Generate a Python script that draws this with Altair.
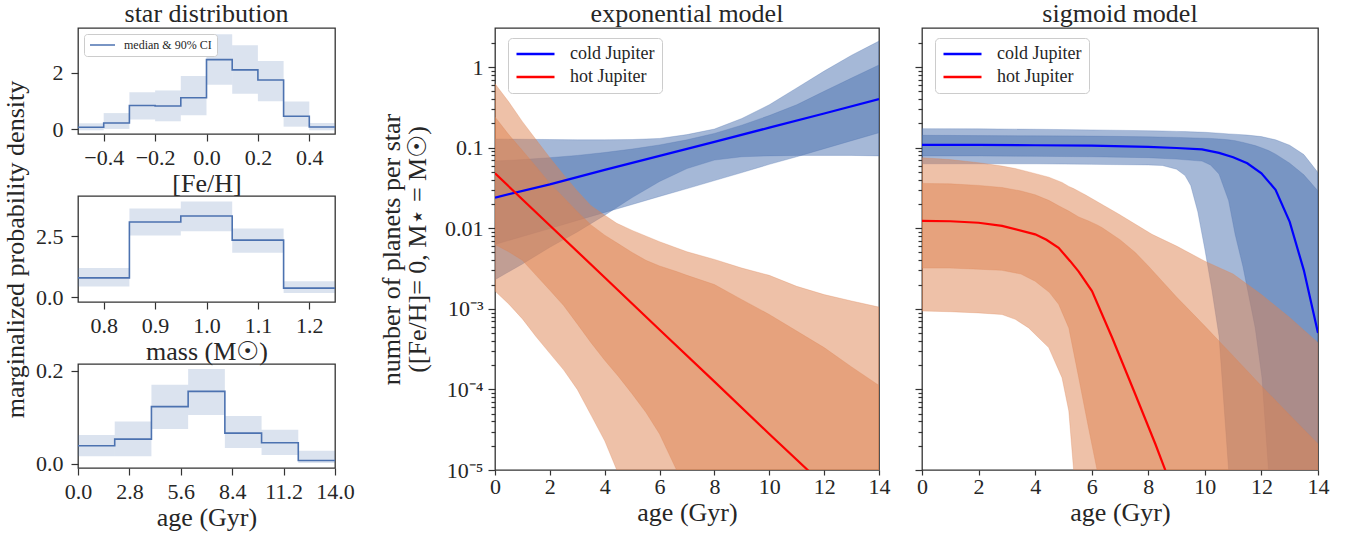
import math
import altair as alt
import pandas as pd

FONT = "Liberation Serif"
TEXT = "#262626"
FRAME = "#333333"
C0 = "#4c72b0"
C1 = "#dd8452"

# ---------------- star distribution (left column) ----------------
FEH_EDGES = [-0.5, -0.4, -0.3, -0.2, -0.1, 0.0, 0.1, 0.2, 0.3, 0.4, 0.5]
FEH_MED = [0.07, 0.22, 0.84, 0.82, 1.11, 2.46, 2.10, 1.74, 0.46, 0.08]
FEH_LO = [-0.04, 0.01, 0.34, 0.28, 0.49, 1.57, 1.25, 0.99, 0.09, -0.04]
FEH_HI = [0.21, 0.57, 1.31, 1.37, 1.88, 3.36, 2.97, 2.41, 0.98, 0.22]

MASS_EDGES = [0.75, 0.85, 0.95, 1.05, 1.15, 1.25]
MASS_MED = [0.80, 3.09, 3.34, 2.35, 0.38]
MASS_LO = [0.45, 2.54, 2.71, 1.83, 0.18]
MASS_HI = [1.21, 3.65, 3.93, 2.83, 0.66]

AGE_EDGES = [0, 2, 4, 6, 8, 10, 12, 14]
AGE_MED = [0.0387, 0.053, 0.123, 0.156, 0.066, 0.045, 0.007]
AGE_LO = [0.016, 0.016, 0.075, 0.105, 0.034, 0.019, 0.0014]
AGE_HI = [0.062, 0.091, 0.170, 0.204, 0.103, 0.073, 0.028]

FEH_TICKS = [-0.4, -0.2, 0.0, 0.2, 0.4]
MASS_TICKS = [0.8, 0.9, 1.0, 1.1, 1.2]
AGEH_TICKS = [0.0, 2.8, 5.6, 8.4, 11.2, 14.0]

# ---------------- exponential model ----------------
EXP_COLD_AGE = [0, 1, 2, 3, 4, 5, 6, 7, 8, 9, 10, 11, 12, 13, 14]
EXP_COLD_OUT_LO = [0.0023, 0.0036, 0.0058, 0.0090, 0.0145, 0.024, 0.038, 0.055, 0.070, 0.077, 0.079, 0.080, 0.080, 0.080, 0.079]
EXP_COLD_OUT_HI = [0.128, 0.127, 0.126, 0.125, 0.125, 0.126, 0.130, 0.145, 0.170, 0.230, 0.340, 0.550, 0.890, 1.40, 2.10]
EXP_COLD_IN_LO = [0.0063, 0.0079, 0.0099, 0.0125, 0.0157, 0.0197, 0.0248, 0.031, 0.039, 0.049, 0.062, 0.077, 0.097, 0.122, 0.153]
EXP_COLD_IN_HI = [0.068, 0.071, 0.075, 0.080, 0.087, 0.096, 0.108, 0.125, 0.150, 0.190, 0.250, 0.340, 0.500, 0.730, 1.06]
EXP_COLD_MED_AGE = [0, 2, 4, 6, 8, 10, 12, 14]
EXP_COLD_MED = [0.024, 0.035, 0.053, 0.079, 0.118, 0.177, 0.265, 0.40]

EXP_HOT_OUT_AGE = [0, 0.5, 1, 1.5, 2, 2.5, 3, 3.5, 4, 4.44, 5, 6, 7, 8, 9, 10, 11, 12, 13, 14]
EXP_HOT_OUT_HI = [0.62, 0.37, 0.21, 0.125, 0.075, 0.046, 0.029, 0.019, 0.0145, 0.0115, 0.0094, 0.0068, 0.0051, 0.0041, 0.0032, 0.0026, 0.0019, 0.0015, 0.00125, 0.00105]
EXP_HOT_OUT_LO = [0.00166, 0.00115, 7.5e-4, 4.5e-4, 2.8e-4, 1.75e-4, 1.0e-4, 4.8e-5, 2.3e-5, 1e-5, 1e-6, 1e-6, 1e-6, 1e-6, 1e-6, 1e-6, 1e-6, 1e-6, 1e-6, 1e-6]
EXP_HOT_IN_AGE = [0, 0.5, 1, 1.5, 2, 2.5, 3, 3.5, 4, 4.5, 5, 5.5, 6, 6.62, 7, 8, 9, 10, 11, 12, 13, 14]
EXP_HOT_IN_HI = [0.24, 0.145, 0.092, 0.058, 0.036, 0.024, 0.016, 0.011, 0.0082, 0.0064, 0.0050, 0.0040, 0.0034, 0.0029, 0.0026, 0.0020, 0.0013, 8.5e-4, 5.3e-4, 3.3e-4, 1.9e-4, 1.12e-4]
EXP_HOT_IN_LO = [0.0063, 0.0051, 0.0040, 0.0026, 0.0017, 0.0011, 6.5e-4, 3.8e-4, 2.3e-4, 1.45e-4, 8.8e-5, 5.2e-5, 2.8e-5, 1e-5, 1e-6, 1e-6, 1e-6, 1e-6, 1e-6, 1e-6, 1e-6, 1e-6]
EXP_HOT_MED_AGE = [0, 2, 4, 6, 8, 10, 11.4, 14]
EXP_HOT_MED = [0.048, 0.0108, 0.00245, 5.5e-4, 1.25e-4, 2.8e-5, 1e-5, 1.5e-6]

# ---------------- sigmoid model ----------------
SIG_COLD_OUT_AGE = [0, 2, 4, 6, 8, 8.5, 9, 9.3, 9.5, 9.75, 10, 10.25, 10.5, 10.84, 11, 11.5, 12, 12.5, 13, 13.5, 14]
SIG_COLD_OUT_HI = [0.172, 0.171, 0.169, 0.166, 0.162, 0.161, 0.159, 0.158, 0.157, 0.156, 0.155, 0.153, 0.151, 0.148, 0.147, 0.143, 0.137, 0.125, 0.107, 0.082, 0.049]
SIG_COLD_OUT_LO = [0.063, 0.063, 0.063, 0.062, 0.061, 0.060, 0.054, 0.045, 0.034, 0.016, 0.0055, 0.0017, 4.6e-4, 1e-5, 1e-6, 1e-6, 1e-6, 1e-6, 1e-6, 1e-6, 1e-6]
SIG_COLD_IN_AGE = [0, 2, 4, 6, 8, 9, 9.9, 10.2, 10.5, 10.84, 11.07, 11.35, 11.78, 12.02, 12.25, 12.5, 13, 13.5, 14]
SIG_COLD_IN_HI = [0.142, 0.141, 0.140, 0.139, 0.136, 0.134, 0.131, 0.130, 0.128, 0.125, 0.122, 0.116, 0.106, 0.099, 0.092, 0.083, 0.064, 0.046, 0.029]
SIG_COLD_IN_LO = [0.079, 0.079, 0.078, 0.077, 0.075, 0.072, 0.068, 0.061, 0.047, 0.022, 0.0084, 0.0033, 5.8e-4, 1.4e-4, 1e-5, 1e-6, 1e-6, 1e-6, 1e-6]
SIG_COLD_MED_AGE = [0, 2, 4, 6, 8, 9, 9.9, 10.5, 11, 11.5, 12, 12.5, 13, 13.5, 14]
SIG_COLD_MED = [0.108, 0.108, 0.107, 0.106, 0.102, 0.099, 0.095, 0.086, 0.076, 0.064, 0.048, 0.030, 0.012, 0.003, 5.0e-4]

SIG_HOT_OUT_AGE = [0, 1, 2, 2.83, 3.3, 3.77, 4.48, 4.95, 5.19, 5.36, 5.6, 5.77, 6.95, 8.13, 9, 10, 11, 12, 13, 14]
SIG_HOT_OUT_HI = [0.075, 0.071, 0.065, 0.059, 0.055, 0.050, 0.043, 0.037, 0.033, 0.031, 0.028, 0.026, 0.015, 0.0084, 0.006, 0.0039, 0.0027, 0.0015, 7.8e-4, 3.8e-4]
SIG_HOT_OUT_LO = [9.4e-4, 9.2e-4, 8.9e-4, 8.5e-4, 7.4e-4, 5.8e-4, 3.3e-4, 1.4e-4, 5.4e-5, 1e-5, 1e-6, 1e-6, 1e-6, 1e-6, 1e-6, 1e-6, 1e-6, 1e-6, 1e-6, 1e-6]
SIG_HOT_IN_AGE = [0, 1, 2, 2.83, 3.5, 4.0, 4.5, 4.83, 5.19, 5.54, 5.89, 6.19, 6.36, 7, 7.54, 8, 9, 10, 11, 12, 13, 14]
SIG_HOT_IN_HI = [0.036, 0.0355, 0.034, 0.032, 0.029, 0.026, 0.022, 0.019, 0.0163, 0.0138, 0.0123, 0.011, 0.0102, 0.0072, 0.0050, 0.0034, 0.0014, 6.1e-4, 2.6e-4, 1.1e-4, 4.8e-5, 2.1e-5]
SIG_HOT_IN_LO = [0.0032, 0.0032, 0.0031, 0.0030, 0.0027, 0.0022, 0.0016, 0.00114, 5.8e-4, 1.4e-4, 3.3e-5, 1e-5, 1e-6, 1e-6, 1e-6, 1e-6, 1e-6, 1e-6, 1e-6, 1e-6, 1e-6, 1e-6]
SIG_HOT_MED_AGE = [0, 1, 2, 2.83, 4.0, 4.4, 4.83, 5.24, 5.54, 6.01, 6.72, 7.54, 8.25, 8.6, 9]
SIG_HOT_MED = [0.0123, 0.0122, 0.0117, 0.0107, 0.0084, 0.0072, 0.0057, 0.0039, 0.0029, 0.00166, 4.4e-4, 8.7e-5, 2.1e-5, 1e-5, 3e-6]

MAJOR = [1e-5, 1e-4, 1e-3, 1e-2, 1e-1, 1]
MAJOR_LABELS = ["10⁻⁵", "10⁻⁴", "10⁻³", "0.01", "0.1", "1"]
AGE_TICKS = [0, 2, 4, 6, 8, 10, 12, 14]
PLANETS = ["cold Jupiter", "hot Jupiter"]
LINE_COLORS = ["#0000ff", "#ff0000"]
Y_DOMAIN = [1e-5, 3.05]


# ---------------- helpers ----------------
def hist_panel(edges, med, lo, hi, xdom, ydom, xticks, yticks, xfmt, yfmt,
               height, xtitle, ytitle=None, title=None, legend=False):
    rects = pd.DataFrame({"x0": edges[:-1], "x1": edges[1:], "lo": lo, "hi": hi})
    steps = pd.DataFrame({"x": edges, "y": med + [med[-1]], "s": "median & 90% CI"})
    xs = alt.Scale(domain=xdom, nice=False, zero=False)
    ys = alt.Scale(domain=ydom, nice=False, zero=False)
    xax = alt.Axis(values=xticks, format=xfmt, title=xtitle, tickSize=7,
                   labelPadding=6, titlePadding=2, labelFlush=False,
                   labelOverlap=False)
    yax = alt.Axis(values=yticks, format=yfmt, title=ytitle, tickSize=7,
                   labelPadding=8, titlePadding=7, labelOverlap=False)
    band = alt.Chart(rects).mark_rect(color=C0, opacity=0.2, strokeWidth=0).encode(
        x=alt.X("x0:Q", scale=xs, axis=xax), x2="x1:Q",
        y=alt.Y("lo:Q", scale=ys, axis=yax), y2="hi:Q")
    enc = dict(x=alt.X("x:Q", scale=xs, axis=xax), y=alt.Y("y:Q", scale=ys, axis=yax))
    if legend:
        enc["color"] = alt.Color(
            "s:N", scale=alt.Scale(range=[C0]),
            legend=alt.Legend(title=None, orient="none", legendX=6, legendY=6,
                              symbolType="stroke", symbolSize=625,
                              symbolStrokeWidth=1.6, labelFontSize=12,
                              labelFont=FONT, labelColor=TEXT, labelOffset=8,
                              padding=5, clipHeight=12, fillColor="white",
                              strokeColor="#cccccc", cornerRadius=3))
    line = alt.Chart(steps).mark_line(interpolate="step-after", color=C0,
                                      strokeWidth=1.6).encode(**enc)
    props = dict(width=257, height=height)
    if title is not None:
        props["title"] = alt.TitleParams(title, anchor="middle", offset=1)
    return alt.layer(band, line).properties(**props)


DECADE_TEST = "abs(log(datum.value)/LN10 - round(log(datum.value)/LN10)) < 0.01"


def label_expr():
    expr = "''"
    for v, lab in zip(MAJOR, MAJOR_LABELS):
        k = int(round(math.log10(v)))
        expr = f"round(log(datum.value)/LN10) == {k} ? '{lab}' : " + expr
    return f"({DECADE_TEST}) ? ({expr}) : ''"


def tick_values():
    vals = []
    for d in MAJOR:
        for m in range(1, 10):
            v = m * d
            if v < 2.9:
                vals.append(v)
    return vals


def model_panel(title, width, bands, meds, show_labels, ytitle=None):
    xs = alt.Scale(domain=[0, 14], nice=False, zero=False)
    ys = alt.Scale(type="log", domain=Y_DOMAIN, nice=False)
    xax = alt.Axis(values=AGE_TICKS, format="d", title="age (Gyr)", tickSize=5,
                   labelPadding=1, titlePadding=2, labelFlush=False)
    yargs = dict(values=tick_values(), labelOverlap=False, labelPadding=5,
                 tickSize={"condition": {"test": DECADE_TEST, "value": 7}, "value": 4})
    if show_labels:
        yargs.update(labelExpr=label_expr(), title=ytitle, titlePadding=14,
                     titleLineHeight=26)
    else:
        yargs.update(labels=False, title=None)
    yax = alt.Axis(**yargs)
    layers = []
    for ages, lo, hi, col in bands:
        df = pd.DataFrame({"age": ages, "lo": lo, "hi": hi})
        layers.append(alt.Chart(df).mark_area(
            color=col, fillOpacity=0.5, stroke=col, strokeWidth=0.8,
            strokeOpacity=0.35, clip=True).encode(
            x=alt.X("age:Q", scale=xs, axis=xax),
            y=alt.Y("lo:Q", scale=ys, axis=yax), y2="hi:Q"))
    frames = []
    for name, (ages, vals) in zip(PLANETS, meds):
        frames.append(pd.DataFrame({"age": ages, "v": vals, "planet": name}))
    lines = pd.concat(frames, ignore_index=True)
    layers.append(alt.Chart(lines).mark_line(strokeWidth=2.2, clip=True).encode(
        x=alt.X("age:Q", scale=xs, axis=xax),
        y=alt.Y("v:Q", scale=ys, axis=yax),
        color=alt.Color("planet:N", scale=alt.Scale(domain=PLANETS, range=LINE_COLORS),
                        legend=alt.Legend(title=None, orient="none", legendX=13, legendY=10,
                                          symbolType="stroke", symbolSize=1444,
                                          symbolStrokeWidth=2.5, labelFontSize=18,
                                          labelFont=FONT, labelColor=TEXT, labelOffset=14,
                                          padding=7, rowPadding=5, clipHeight=18,
                                          fillColor="rgba(255,255,255,0.85)",
                                          strokeColor="#cccccc", cornerRadius=4))))
    return alt.layer(*layers).properties(
        width=width, height=442,
        title=alt.TitleParams(title, anchor="middle", offset=1))


p1 = hist_panel(FEH_EDGES, FEH_MED, FEH_LO, FEH_HI, [-0.5, 0.5], [-0.17, 3.58],
                FEH_TICKS, [0, 2], ".1f", "d", 106, "[Fe/H]", title="star distribution",
                legend=True)
p2 = hist_panel(MASS_EDGES, MASS_MED, MASS_LO, MASS_HI, [0.75, 1.25], [-0.19, 4.16],
                MASS_TICKS, [0, 2.5], ".1f", ".1f", 106, "mass (M☉)",
                ytitle="marginalized probability density")
p3 = hist_panel(AGE_EDGES, AGE_MED, AGE_LO, AGE_HI, [0, 14], [-0.0093, 0.215],
                AGEH_TICKS, [0, 0.2], ".1f", ".1f", 104, "age (Gyr)")

mid = model_panel(
    "exponential model", 384,
    [(EXP_COLD_AGE, EXP_COLD_OUT_LO, EXP_COLD_OUT_HI, C0),
     (EXP_COLD_AGE, EXP_COLD_IN_LO, EXP_COLD_IN_HI, C0),
     (EXP_HOT_OUT_AGE, EXP_HOT_OUT_LO, EXP_HOT_OUT_HI, C1),
     (EXP_HOT_IN_AGE, EXP_HOT_IN_LO, EXP_HOT_IN_HI, C1)],
    [(EXP_COLD_MED_AGE, EXP_COLD_MED), (EXP_HOT_MED_AGE, EXP_HOT_MED)],
    True, ytitle=["number of planets per star", "([Fe/H]= 0, M⋆ = M☉)"])
right = model_panel(
    "sigmoid model", 396,
    [(SIG_COLD_OUT_AGE, SIG_COLD_OUT_LO, SIG_COLD_OUT_HI, C0),
     (SIG_COLD_IN_AGE, SIG_COLD_IN_LO, SIG_COLD_IN_HI, C0),
     (SIG_HOT_OUT_AGE, SIG_HOT_OUT_LO, SIG_HOT_OUT_HI, C1),
     (SIG_HOT_IN_AGE, SIG_HOT_IN_LO, SIG_HOT_IN_HI, C1)],
    [(SIG_COLD_MED_AGE, SIG_COLD_MED), (SIG_HOT_MED_AGE, SIG_HOT_MED)],
    False)

left_col = alt.vconcat(p1, p2, p3, spacing=62, bounds="flush").resolve_scale(
    x="independent", y="independent", color="independent").resolve_legend(color="independent")
models = alt.hconcat(mid, right, spacing=22).resolve_scale(
    x="independent", y="independent", color="independent").resolve_legend(color="independent")

chart = alt.hconcat(left_col, models, spacing=22).resolve_scale(
    x="independent", y="independent", color="independent").resolve_legend(
    color="independent").properties(
    padding={"left": 1, "top": 0, "right": 5, "bottom": 2}).configure(
    font=FONT, background="white").configure_view(
    stroke=FRAME, strokeWidth=1.3).configure_axis(
    domain=False, grid=False, tickColor=FRAME, tickWidth=1.2, labelFont=FONT,
    labelFontSize=22, labelColor=TEXT, titleFont=FONT, titleFontSize=26,
    titleFontWeight="normal", titleColor=TEXT).configure_title(
    font=FONT, fontSize=26, fontWeight="normal", color=TEXT)

chart.save("out.html", embed_options={"renderer": "svg", "actions": False})
